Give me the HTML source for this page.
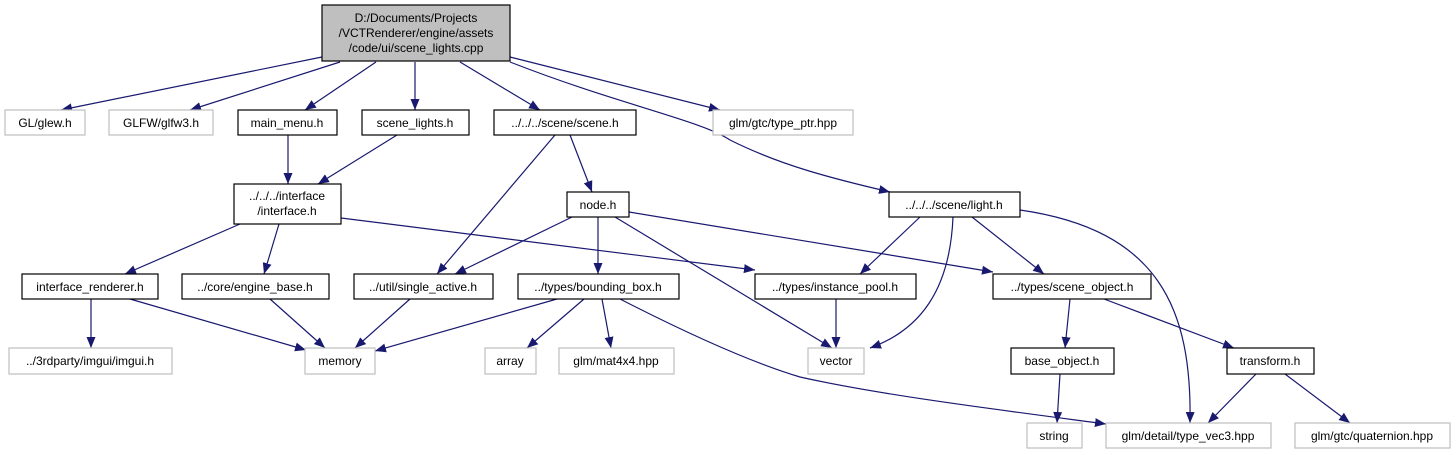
<!DOCTYPE html>
<html><head><meta charset="utf-8"><style>
html,body{margin:0;padding:0;background:#fff;}
svg{display:block}
text{font-family:"Liberation Sans",Arial,sans-serif;font-size:12px;fill:#000;text-anchor:middle}
.e{stroke:#191970;stroke-width:1.2;fill:none;marker-end:url(#a)}
.b{fill:#fff;stroke:#000;stroke-width:1.2}
.g{fill:#fff;stroke:#bfbfbf;stroke-width:1.2}
</style></head><body>
<svg width="1456" height="455" viewBox="0 0 1456 455" xmlns="http://www.w3.org/2000/svg">
<defs><marker id="a" markerUnits="userSpaceOnUse" markerWidth="12" markerHeight="10" refX="11" refY="4.5" orient="auto"><path d="M0,0 L11,4.5 L0,9 z" fill="#191970"/></marker></defs>
<path class="e" d="M322,57 L61,110"/>
<path class="e" d="M340,62 L190,110"/>
<path class="e" d="M376,62 L305,110"/>
<path class="e" d="M415,62 L415,110"/>
<path class="e" d="M460,62 L540,110"/>
<path class="e" d="M510,57 L720,110"/>
<path class="e" d="M510,62 C620,105 700,120 730,140 C780,165 830,178 890,192"/>
<path class="e" d="M288,135 L288,184"/>
<path class="e" d="M397,135 L318,184"/>
<path class="e" d="M570,135 L592,192"/>
<path class="e" d="M555,135 L437,274"/>
<path class="e" d="M240,224 L125,274"/>
<path class="e" d="M279,224 L264,274"/>
<path class="e" d="M341,218 L755,270"/>
<path class="e" d="M572,217 L455,274"/>
<path class="e" d="M598,217 L598,274"/>
<path class="e" d="M615,217 L832,348"/>
<path class="e" d="M629,212 L993,272"/>
<path class="e" d="M920,217 L860,274"/>
<path class="e" d="M953,217 C950,290 920,330 870,348"/>
<path class="e" d="M972,217 L1044,274"/>
<path class="e" d="M1020,210 C1160,230 1192,310 1190,423"/>
<path class="e" d="M91,299 L91,348"/>
<path class="e" d="M130,299 L306,350"/>
<path class="e" d="M270,299 L325,348"/>
<path class="e" d="M410,299 L355,348"/>
<path class="e" d="M557,299 L375,351"/>
<path class="e" d="M584,299 L527,348"/>
<path class="e" d="M602,299 L611,348"/>
<path class="e" d="M620,299 C700,340 760,365 800,377 C880,395 1000,410 1106,424"/>
<path class="e" d="M836,299 L836,348"/>
<path class="e" d="M1070,299 L1065,348"/>
<path class="e" d="M1104,299 L1234,348"/>
<path class="e" d="M1060,374 L1057,423"/>
<path class="e" d="M1256,374 L1208,423"/>
<path class="e" d="M1285,374 L1350,423"/>
<rect x="322" y="5" width="188" height="56" fill="#bfbfbf" stroke="#000" stroke-width="1.2"/>
<text x="416" y="22">D:/Documents/Projects</text>
<text x="416" y="37">/VCTRenderer/engine/assets</text>
<text x="416" y="52">/code/ui/scene_lights.cpp</text>
<rect class="g" x="5" y="110" width="80" height="25"/><text x="45" y="127">GL/glew.h</text>
<rect class="g" x="109" y="110" width="104" height="25"/><text x="161" y="127">GLFW/glfw3.h</text>
<rect class="b" x="238" y="110" width="99" height="25"/><text x="287" y="127">main_menu.h</text>
<rect class="b" x="362" y="110" width="107" height="25"/><text x="415" y="127">scene_lights.h</text>
<rect class="b" x="494" y="110" width="142" height="25"/><text x="565" y="127">../../../scene/scene.h</text>
<rect class="g" x="713" y="110" width="140" height="25"/><text x="783" y="127">glm/gtc/type_ptr.hpp</text>
<rect class="b" x="234" y="184" width="107" height="40"/><text x="287" y="200">../../../interface</text><text x="287" y="215">/interface.h</text>
<rect class="b" x="567" y="192" width="62" height="25"/><text x="598" y="209">node.h</text>
<rect class="b" x="889" y="192" width="131" height="25"/><text x="954" y="209">../../../scene/light.h</text>
<rect class="b" x="22" y="274" width="136" height="25"/><text x="90" y="291">interface_renderer.h</text>
<rect class="b" x="182" y="274" width="147" height="25"/><text x="255" y="291">../core/engine_base.h</text>
<rect class="b" x="354" y="274" width="139" height="25"/><text x="423" y="291">../util/single_active.h</text>
<rect class="b" x="518" y="274" width="161" height="25"/><text x="598" y="291">../types/bounding_box.h</text>
<rect class="b" x="755" y="274" width="161" height="25"/><text x="835" y="291">../types/instance_pool.h</text>
<rect class="b" x="993" y="274" width="158" height="25"/><text x="1072" y="291">../types/scene_object.h</text>
<rect class="g" x="9" y="348" width="163" height="26"/><text x="90" y="365">../3rdparty/imgui/imgui.h</text>
<rect class="g" x="305" y="348" width="70" height="26"/><text x="340" y="365">memory</text>
<rect class="g" x="485" y="348" width="51" height="26"/><text x="510" y="365">array</text>
<rect class="g" x="559" y="348" width="115" height="26"/><text x="616" y="365">glm/mat4x4.hpp</text>
<rect class="g" x="808" y="348" width="56" height="26"/><text x="836" y="365">vector</text>
<rect class="b" x="1011" y="348" width="103" height="26"/><text x="1062" y="365">base_object.h</text>
<rect class="b" x="1227" y="348" width="87" height="26"/><text x="1270" y="365">transform.h</text>
<rect class="g" x="1027" y="423" width="55" height="25"/><text x="1054" y="440">string</text>
<rect class="g" x="1106" y="423" width="165" height="25"/><text x="1188" y="440">glm/detail/type_vec3.hpp</text>
<rect class="g" x="1295" y="423" width="155" height="25"/><text x="1372" y="440">glm/gtc/quaternion.hpp</text>
</svg>
</body></html>
